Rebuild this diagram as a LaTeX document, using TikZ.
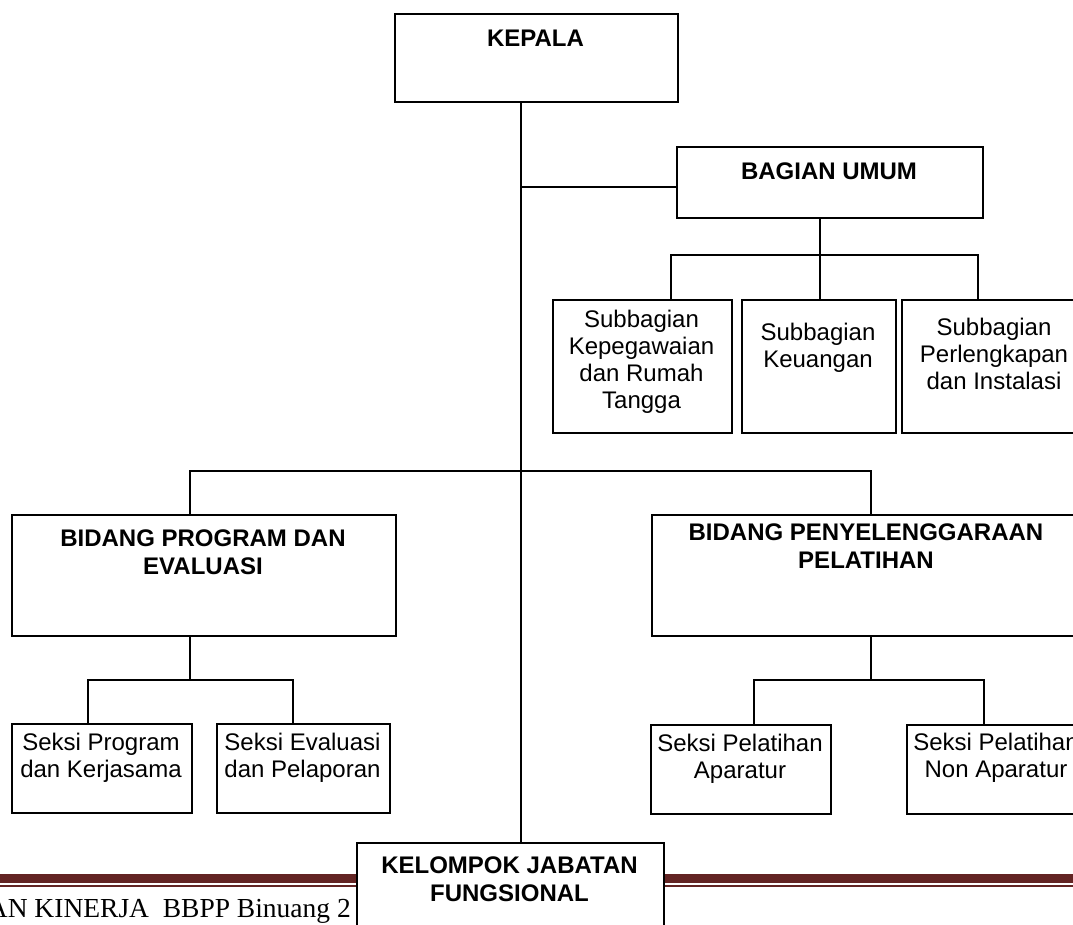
\documentclass[tikz,border=0pt]{standalone}
\usepackage{fontspec}
\setmainfont{Liberation Sans}
\newfontfamily\footfont{Liberation Serif}
\usepackage{xcolor}
\definecolor{footred}{RGB}{99,36,35}

\begin{document}
\begin{tikzpicture}[x=1pt,y=-1pt,
  box/.style={draw, line width=1.9pt, fill=white, rectangle, inner sep=0pt, anchor=north west},
  head/.style={anchor=north, inner sep=0pt, align=center, font=\fontsize{24}{28}\selectfont\bfseries},
  sub/.style={anchor=north, inner sep=0pt, align=center, font=\fontsize{24}{27}\selectfont},
  link/.style={line width=1.9pt}]
\useasboundingbox (0,0) rectangle (1073,924);
\clip (0,0) rectangle (1073,924);

%footer
\draw[footred, line width=8.4pt] (0,878.5) -- (1073,878.5);
\draw[footred, line width=1.7pt] (0,886) -- (1073,886);
\node[anchor=base east, inner sep=0pt, font=\footfont\fontsize{27.5}{33}\selectfont] (foot) at (351,917) {AN KINERJA\ \ BBPP Binuang 2};

%branch points
\coordinate (trunk) at (521,0);
\coordinate (hub) at (521,187);
\coordinate (ua) at (671,255);
\coordinate (ub) at (820,255);
\coordinate (uc) at (978,255);
\coordinate (ba) at (190,471);
\coordinate (bb) at (871,471);
\coordinate (pa) at (88,680);
\coordinate (pb) at (293,680);
\coordinate (qa) at (754,680);
\coordinate (qb) at (984,680);

%boxes
\node[box, minimum width=283pt, minimum height=88pt] (kepala) at (394,13) {};
\node[box, minimum width=306pt, minimum height=71pt] (bagian) at (676,146) {};
\node[box, minimum width=179pt, minimum height=133pt] (sub1) at (552,299) {};
\node[box, minimum width=154pt, minimum height=133pt] (sub2) at (741,299) {};
\node[box, minimum width=186pt, minimum height=133pt] (sub3) at (901,299) {};
\node[box, minimum width=384pt, minimum height=121pt] (bpe) at (11,514) {};
\node[box, minimum width=430pt, minimum height=121pt] (bpp) at (651,514) {};
\node[box, minimum width=180pt, minimum height=89pt] (spk) at (11,723) {};
\node[box, minimum width=173pt, minimum height=89pt] (sep) at (216,723) {};
\node[box, minimum width=180pt, minimum height=89pt] (spa) at (650,724) {};
\node[box, minimum width=180pt, minimum height=89pt] (spn) at (906,724) {};

%connectors
\draw[link] (trunk |- kepala.south) -- (trunk |- 0,842);
\draw[link] (hub) -- (hub -| bagian.west);
\draw[link] (ub |- bagian.south) -- (ub |- sub2.north);
\draw[link] (ua |- sub1.north) -- (ua) -- (uc) -- (uc |- sub3.north);
\draw[link] (ba |- bpe.north) -- (ba) -- (bb) -- (bb |- bpp.north);
\draw[link] (ba |- bpe.south) -- (ba |- pa);
\draw[link] (pa |- spk.north) -- (pa) -- (pb) -- (pb |- sep.north);
\draw[link] (bb |- bpp.south) -- (bb |- qa);
\draw[link] (qa |- spa.north) -- (qa) -- (qb) -- (qb |- spn.north);

\node[box, minimum width=307pt, minimum height=100pt] (kjf) at (356,842) {};

%labels
\node[head] (kepala-t) at (535.5,29.7) {KEPALA};
\node[head] (bagian-t) at (829,162.7) {BAGIAN UMUM};
\node[sub] (sub1-t) at (641.5,309.7) {Subbagian\\Kepegawaian\\dan Rumah\\Tangga};
\node[sub] (sub2-t) at (818,322.7) {Subbagian\\Keuangan};
\node[sub] (sub3-t) at (994,317.7) {Subbagian\\Perlengkapan\\dan Instalasi};
\node[head] (bpe-t) at (203,529.7) {BIDANG PROGRAM DAN\\EVALUASI};
\node[head] (bpp-t) at (866,523.7) {BIDANG PENYELENGGARAAN\\PELATIHAN};
\node[sub] (spk-t) at (101,732.7) {Seksi Program\\dan Kerjasama};
\node[sub] (sep-t) at (302.5,732.7) {Seksi Evaluasi\\dan Pelaporan};
\node[sub] (spa-t) at (740,733.7) {Seksi Pelatihan\\Aparatur};
\node[sub] (spn-t) at (996,732.7) {Seksi Pelatihan\\Non Aparatur};
\node[head] (kjf-t) at (509.5,856.7) {KELOMPOK JABATAN\\FUNGSIONAL};
\end{tikzpicture}
\end{document}
